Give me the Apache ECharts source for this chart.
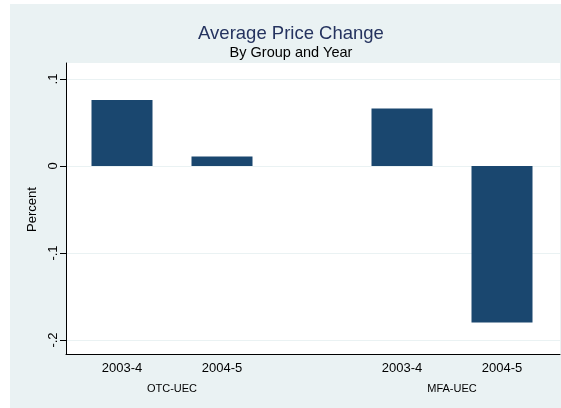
<!DOCTYPE html>
<html lang="en">
  <head>
    <meta charset="utf-8" />
    <title>Average Price Change</title>
    <script src="https://cdn.jsdelivr.net/npm/echarts@6/dist/echarts.min.js"></script>
    <style>
      html, body { margin: 0; padding: 0; background: #ffffff; }
      #main { position: absolute; left: 10px; top: 4px; width: 551px; height: 404px; }
    </style>
  </head>
  <body>
    <div id="main"></div>
    <script type="text/javascript">
      // data
      var years = ['2003-4', '2004-5'];
      var groups = ['OTC-UEC', 'MFA-UEC'];
      var otcValues = [0.076, 0.011];
      var mfaValues = [0.066, -0.18];
      var yTicks = [-0.2, -0.1, 0, 0.1];

      var navy = '#1a476f';
      var font = 'Liberation Sans';

      function fmtTick(v) {
        if (v === 0) return '0';
        return String(Math.round(v * 10) / 10).replace('0.', '.');
      }

      var chartDom = document.getElementById('main');
      var myChart = echarts.init(chartDom);

      // hidden y axis shared by the bar grids
      function barY(idx) {
        return {
          gridIndex: idx, type: 'value', min: yTicks[0], max: yTicks[yTicks.length - 1],
          interval: 0.1, show: false
        };
      }
      function barX(idx, name) {
        return {
          gridIndex: idx, type: 'category', data: years, position: 'bottom', offset: 14,
          axisLine: { show: false }, axisTick: { show: false },
          axisLabel: { margin: 8, fontFamily: font, fontSize: 13, color: '#000' },
          name: name, nameLocation: 'middle', nameGap: 29,
          nameTextStyle: { fontFamily: font, fontSize: 11, color: '#000' }
        };
      }

      var option = {
        backgroundColor: '#eaf2f3',
        animation: false,
        title: [
          {
            text: 'Average Price Change', left: 276, top: 15, textAlign: 'center',
            textStyle: { fontFamily: font, fontSize: 18.5, fontWeight: 'normal', color: '#25335f' }
          },
          {
            text: 'By Group and Year', left: 276, top: 36, textAlign: 'center',
            textStyle: { fontFamily: font, fontSize: 14.5, fontWeight: 'normal', color: '#000' }
          }
        ],
        grid: [
          // frame: white plot region
          { left: 56, right: 1, top: 59, bottom: 54, show: true, backgroundColor: '#fff', borderWidth: 0 },
          // y scale with ticks and grid lines
          { left: 56, right: 1, top: 75, bottom: 68 },
          // OTC-UEC bars
          { left: 62, width: 200, top: 75, bottom: 68 },
          // MFA-UEC bars
          { left: 342, width: 200, top: 75, bottom: 68 }
        ],
        xAxis: [
          {
            gridIndex: 0, type: 'value', min: 0, max: 1,
            axisLine: { show: true, lineStyle: { color: '#000', width: 1 } },
            axisTick: { show: false }, axisLabel: { show: false }, splitLine: { show: false }
          },
          { gridIndex: 1, type: 'value', min: 0, max: 1, show: false },
          barX(2, groups[0]),
          barX(3, groups[1])
        ],
        yAxis: [
          {
            gridIndex: 0, type: 'value', min: 0, max: 1,
            axisLine: { show: true, lineStyle: { color: '#000', width: 1 } },
            axisTick: { show: false }, axisLabel: { show: false }, splitLine: { show: false }
          },
          {
            gridIndex: 1, type: 'value', min: yTicks[0], max: yTicks[yTicks.length - 1], interval: 0.1,
            offset: 0,
            axisLine: { show: false },
            axisTick: { show: true, length: 6, lineStyle: { color: '#000' } },
            axisLabel: {
              rotate: 90, margin: 6, fontFamily: font, fontSize: 13, color: '#000',
              formatter: fmtTick
            },
            splitLine: { show: true, lineStyle: { color: '#eaf2f3', width: 1 } },
            name: 'Percent', nameLocation: 'middle', nameGap: 22, nameRotate: 90,
            nameTextStyle: { fontFamily: font, fontSize: 13, color: '#000' }
          },
          barY(2),
          barY(3)
        ],
        series: [
          {
            type: 'bar', xAxisIndex: 2, yAxisIndex: 2, data: otcValues, barWidth: 61,
            itemStyle: { color: navy }
          },
          {
            type: 'bar', xAxisIndex: 3, yAxisIndex: 3, data: mfaValues, barWidth: 61,
            itemStyle: { color: navy }
          }
        ]
      };

      myChart.setOption(option);
    </script>
  </body>
</html>
